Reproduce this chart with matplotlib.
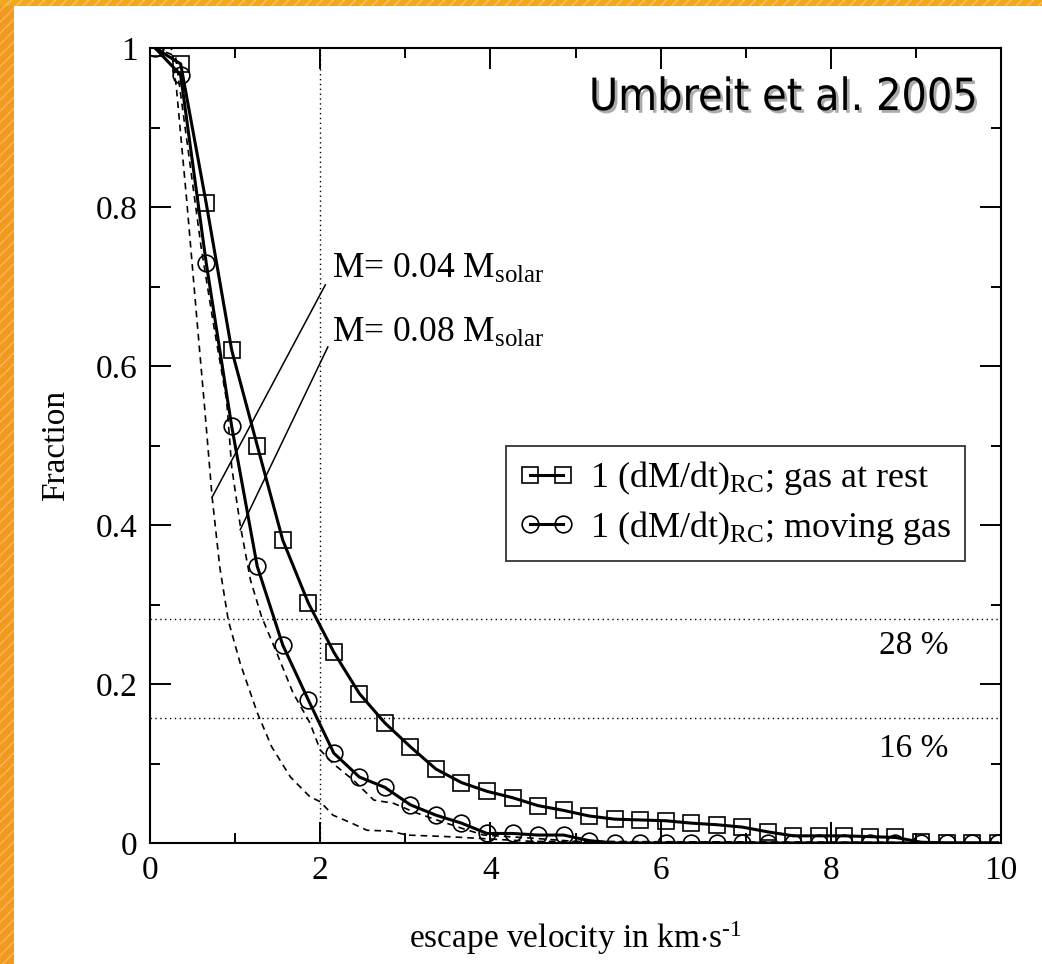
import numpy as np
import matplotlib
matplotlib.use('Agg')
import matplotlib.pyplot as plt
import matplotlib.patheffects as pe
from matplotlib.patches import Rectangle

plt.rcParams['font.family'] = ['Liberation Serif', 'DejaVu Serif']
plt.rcParams['mathtext.fontset'] = 'custom'
plt.rcParams['mathtext.rm'] = 'Liberation Serif'
plt.rcParams['mathtext.it'] = 'Liberation Serif:italic'

# escape velocity grid of the symbols (km/s)
v_sym = [0.06, 0.36, 0.66, 0.96, 1.26, 1.56, 1.86, 2.16, 2.46, 2.76, 3.06, 3.36,
         3.66, 3.96, 4.26, 4.56, 4.86, 5.16, 5.46, 5.76, 6.06, 6.36, 6.66, 6.96,
         7.26, 7.56, 7.86, 8.16, 8.46, 8.76, 9.06, 9.36, 9.66, 9.96]
# gas at rest (squares)
frac_rest = [1.0, 0.98, 0.805, 0.62, 0.50, 0.381, 0.302, 0.240, 0.188, 0.151, 0.121, 0.093,
             0.076, 0.065, 0.057, 0.047, 0.041, 0.034, 0.030, 0.029, 0.028, 0.025, 0.023, 0.020,
             0.014, 0.009, 0.009, 0.009, 0.008, 0.007, 0.001, 0.0, 0.0, 0.0]
# moving gas (circles)
frac_moving = [1.0, 0.966, 0.730, 0.524, 0.348, 0.249, 0.180, 0.113, 0.083, 0.070, 0.048, 0.035,
               0.025, 0.012, 0.012, 0.010, 0.010, 0.003, 0.0, 0.0, 0.0, 0.0, 0.0, 0.0,
               0.0, 0.0, 0.0, 0.0, 0.0, 0.0, 0.0, 0.0, 0.0, 0.0]

# dashed curves, M = 0.04 and 0.08 M_solar
v_m04 = [0.06, 0.25, 0.31, 0.43, 0.55, 0.64, 0.73, 0.82, 0.92, 1.06, 1.26, 1.43, 1.65,
         1.88, 2.0, 2.15, 2.35, 2.55, 2.82, 3.02, 3.5, 4.0, 4.5, 10.0]
frac_m04 = [1.0, 1.0, 0.95, 0.81, 0.66, 0.55, 0.435, 0.347, 0.28, 0.226, 0.164, 0.121, 0.083,
            0.058, 0.052, 0.035, 0.026, 0.016, 0.015, 0.010, 0.008, 0.005, 0.002, 0.0]
v_m08 = [0.06, 0.3, 0.45, 0.6, 0.75, 0.9, 0.96, 1.06, 1.18, 1.31, 1.49, 1.68, 1.88, 2.0,
         2.15, 2.39, 2.63, 2.86, 3.1, 3.37, 3.65, 3.92, 4.5, 5.0, 10.0]
frac_m08 = [1.0, 0.99, 0.87, 0.75, 0.65, 0.557, 0.473, 0.40, 0.331, 0.285, 0.239, 0.189, 0.151,
            0.117, 0.10, 0.079, 0.054, 0.05, 0.039, 0.029, 0.019, 0.01, 0.006, 0.002, 0.0]

# reference lines
v_ref = 2.0
frac_levels = [0.282, 0.157]
level_labels = ['28 %', '16 %']
level_label_y = [0.248, 0.118]

fig = plt.figure(figsize=(10.42, 9.64), dpi=100)
fig.patch.set_facecolor('white')

# orange frame strips (left and top)
fig.patches.append(Rectangle((0, 0), 14 / 1042, 1, transform=fig.transFigure,
                             facecolor='#f39a1e', edgecolor='#f7b860', hatch='///',
                             linewidth=0, zorder=0))
fig.patches.append(Rectangle((0, 1 - 6 / 964), 1, 6 / 964, transform=fig.transFigure,
                             facecolor='#f2a81d', edgecolor='#f7c860', hatch='///',
                             linewidth=0, zorder=0))

ax = fig.add_axes([150 / 1042, 121 / 964, 851 / 1042, 795 / 964])

ax.axvline(v_ref, color='black', linestyle=(0, (1, 2.5)), linewidth=1.0, zorder=1)
for lev in frac_levels:
    ax.axhline(lev, color='black', linestyle=(0, (1, 2.5)), linewidth=1.0, zorder=1)

ax.plot(v_m04, frac_m04, color='black', linestyle=(0, (4, 3)), linewidth=1.2, zorder=2)
ax.plot(v_m08, frac_m08, color='black', linestyle=(0, (4, 3)), linewidth=1.2, zorder=2)

ax.plot(v_sym, frac_rest, color='black', linewidth=2.2, marker='s', markersize=11,
        markerfacecolor='none', markeredgewidth=1.2, zorder=3,
        label=r'1 (dM/dt)$_{\mathrm{RC}}$; gas at rest')
ax.plot(v_sym, frac_moving, color='black', linewidth=2.2, marker='o', markersize=12,
        markerfacecolor='none', markeredgewidth=1.2, zorder=3,
        label=r'1 (dM/dt)$_{\mathrm{RC}}$; moving gas')

# mass annotations
ax.plot([0.73, 2.06], [0.435, 0.702], color='black', linewidth=1.1)
ax.plot([1.06, 2.09], [0.394, 0.624], color='black', linewidth=1.1)
ax.text(2.14, 0.711, r'M= 0.04 M$_{\mathrm{solar}}$', fontsize=25.5, va='baseline')
ax.text(2.14, 0.630, r'M= 0.08 M$_{\mathrm{solar}}$', fontsize=25.5, va='baseline')

for lab, yl in zip(level_labels, level_label_y):
    ax.text(9.38, yl, lab, fontsize=24, ha='right', va='center')

ax.text(9.73, 0.922, 'Umbreit et al. 2005', fontsize=32, ha='right', va='baseline',
        family='DejaVu Sans', fontstretch='condensed',
        path_effects=[pe.withSimplePatchShadow(offset=(2, -2), shadow_rgbFace='#888888', alpha=0.7)])

leg = ax.legend(loc='upper left', bbox_to_anchor=(4.18 / 10, 0.5), fontsize=26,
                numpoints=2, handlelength=1.5, handletextpad=0.45, labelspacing=0.32,
                borderpad=0.38, frameon=True, fancybox=False, borderaxespad=0)
leg.get_frame().set_edgecolor('black')
leg.get_frame().set_linewidth(1.3)

ax.set_xlim(0, 10)
ax.set_ylim(0, 1)
ax.set_xticks([0, 2, 4, 6, 8, 10])
ax.set_xticks([1, 3, 5, 7, 9], minor=True)
ax.set_yticks([0, 0.2, 0.4, 0.6, 0.8, 1.0])
ax.set_yticklabels(['0', '0.2', '0.4', '0.6', '0.8', '1'])
ax.set_yticks([0.1, 0.3, 0.5, 0.7, 0.9], minor=True)
ax.tick_params(which='both', direction='in', top=True, right=True, width=1.4,
               labelsize=24)
ax.tick_params(which='major', length=15, pad=9)
ax.tick_params(which='minor', length=7.5)
for s in ax.spines.values():
    s.set_linewidth(1.5)

ax.set_xlabel(r'escape velocity in km$\cdot$s$^{\mathrm{\text{-}1}}$', fontsize=24, labelpad=24)
ax.set_ylabel('Fraction', fontsize=24, labelpad=18)

fig.savefig('out.png', dpi=100)
